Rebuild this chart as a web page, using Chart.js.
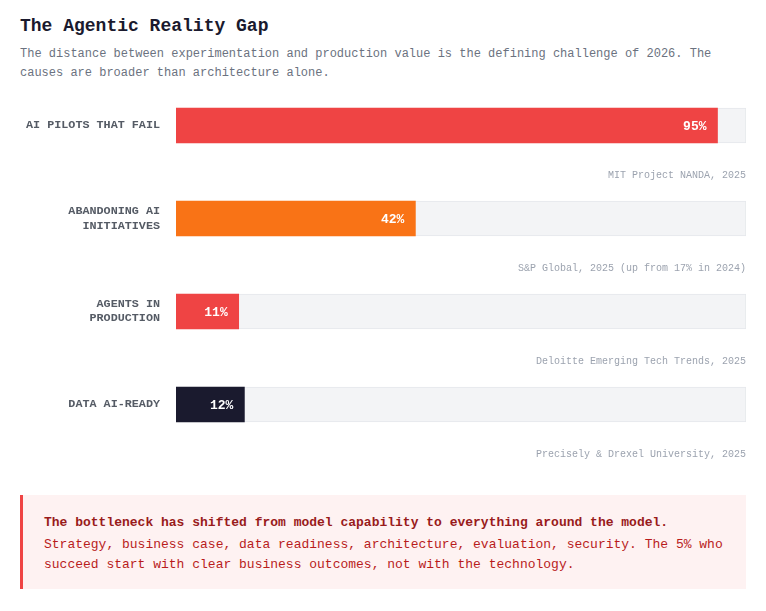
<!DOCTYPE html>
<html>
<head>
<meta charset="utf-8">
<script src="https://cdn.jsdelivr.net/npm/chart.js@4"></script>
<style>
  body { margin: 0; background: #fff; font-family: "Liberation Mono", "DejaVu Sans Mono", monospace; }
  .title { position: absolute; left: 20px; top: 16px; font-size: 18px; line-height: 20px; font-weight: bold; color: #1a1a2e; }
  .sub { position: absolute; left: 20px; top: 45px; width: 730px; font-size: 12px; line-height: 19px; color: #6b7280; }
  #wrap { position: absolute; left: 0; top: 56px; width: 766px; height: 418px; }
  .callout { position: absolute; left: 20px; top: 495px; width: 702px; padding: 18px 0 14px 21px;
             background: #fef2f2; border-left: 3px solid #ef4444; font-size: 13px; line-height: 20px; color: #b91c1c; }
  .callout b { display: block; color: #991b1b; margin-bottom: 2px; }
</style>
</head>
<body>
<div class="title">The Agentic Reality Gap</div>
<div class="sub">The distance between experimentation and production value is the defining challenge of 2026. The causes are broader than architecture alone.</div>
<div id="wrap"><canvas id="gap" width="766" height="418"></canvas></div>
<div class="callout">
  <b>The bottleneck has shifted from model capability to everything around the model.</b>
  Strategy, business case, data readiness, architecture, evaluation, security. The 5% who succeed start with clear business outcomes, not with the technology.
</div>
<script>
const labels = [['AI PILOTS THAT FAIL'], ['ABANDONING AI', 'INITIATIVES'], ['AGENTS IN', 'PRODUCTION'], ['DATA AI-READY']];
const values = [95, 42, 11, 12];
const colors = ['#ef4444', '#f97316', '#ef4444', '#1a1a2e'];
const sources = ['MIT Project NANDA, 2025', 'S&P Global, 2025 (up from 17% in 2024)', 'Deloitte Emerging Tech Trends, 2025', 'Precisely & Drexel University, 2025'];
const full = [100, 100, 100, 100];

const mono = '"Liberation Mono", "DejaVu Sans Mono", monospace';

// value text inside each bar + source line under it
const barText = {
  id: 'barText',
  afterDatasetsDraw(chart) {
    const ctx = chart.ctx;
    const meta = chart.getDatasetMeta(0);
    ctx.save();
    meta.data.forEach((bar, i) => {
      ctx.textAlign = 'right';
      ctx.textBaseline = 'middle';
      ctx.fillStyle = '#ffffff';
      ctx.font = 'bold 13px ' + mono;
      ctx.fillText(values[i] + '%', bar.x - 11, bar.y + 1);
      ctx.fillStyle = '#9ca3af';
      ctx.font = '10px ' + mono;
      ctx.fillText(sources[i], chart.chartArea.right, bar.y + 49.5);
    });
    ctx.restore();
  }
};

new Chart(document.getElementById('gap'), {
  type: 'bar',
  data: {
    labels: labels,
    datasets: [
      { data: values, backgroundColor: colors, barThickness: 35, grouped: false, order: 1 },
      { data: full, backgroundColor: '#f3f4f6', borderColor: '#e5e7eb', borderWidth: 1, barThickness: 35, grouped: false, order: 2 }
    ]
  },
  options: {
    indexAxis: 'y',
    responsive: false,
    animation: false,
    devicePixelRatio: 1,
    layout: { padding: { top: 0, right: 20, bottom: 20, left: 0 } },
    plugins: { legend: { display: false }, tooltip: { enabled: false } },
    scales: {
      x: { min: 0, max: 100, display: false },
      y: {
        afterFit(scale) { scale.width = 176; },
        grid: { display: false, drawTicks: false },
        border: { display: false },
        ticks: { padding: 16, color: '#555b65', font: { family: mono, size: 11.75, weight: 'bold', lineHeight: 1.2 } }
      }
    }
  },
  plugins: [barText]
});
</script>
</body>
</html>
